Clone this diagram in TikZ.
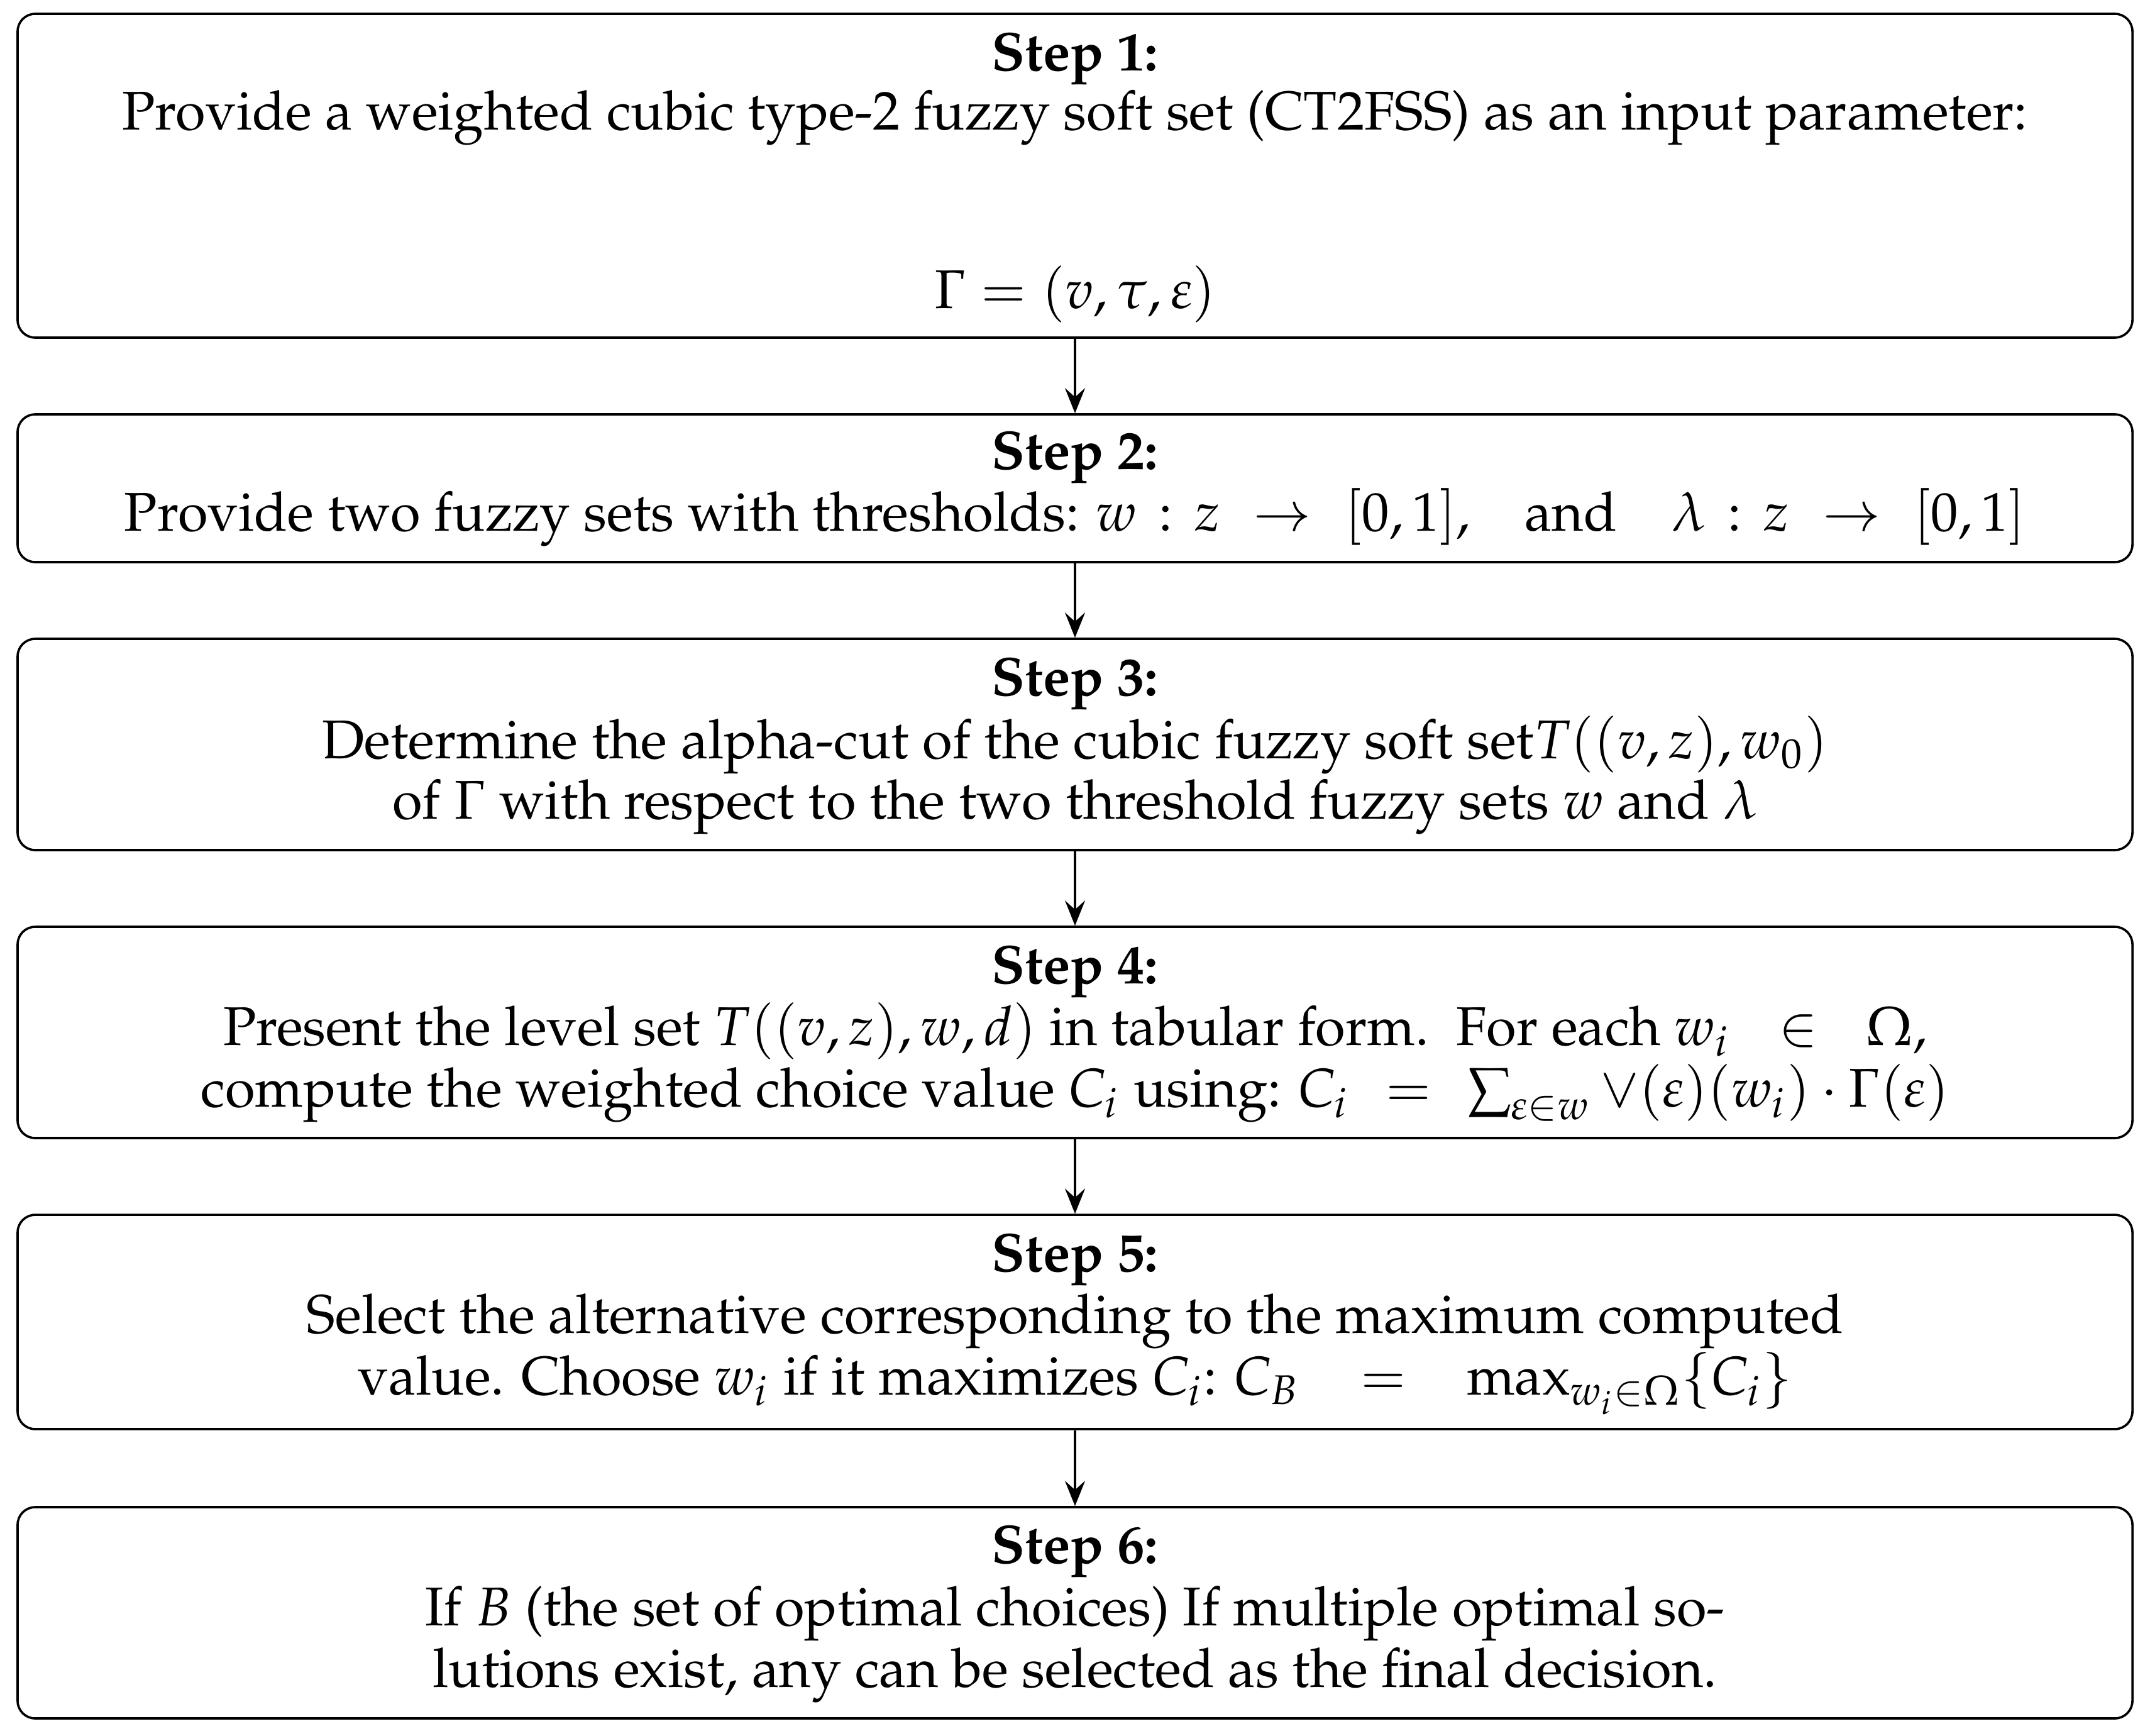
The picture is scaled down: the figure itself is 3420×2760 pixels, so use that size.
\documentclass[tikz,border=0pt]{standalone}
\usepackage[T1]{fontenc}
\usepackage{mathpazo}
\usetikzlibrary{arrows.meta}
\begin{document}
\begin{tikzpicture}[x=0.125pt,y=-0.125pt,
  stepbox/.style={draw, line width=0.45pt, rounded corners=3.5pt, minimum width=420.5pt, inner sep=0pt},
  txt/.style={anchor=base, inner sep=0pt, font=\fontsize{10.85}{13}\selectfont},
  conn/.style={-{Stealth[length=5pt,width=4pt,inset=1.8pt]}, line width=0.45pt}]
\useasboundingbox (0,0) rectangle (3420,2760);
% boxes
\node[stepbox, minimum height=64.375pt] (b1) at (1710,279.5) {};
\node[stepbox, minimum height=29.375pt] (b2) at (1710,776.5) {};
\node[stepbox, minimum height=42pt] (b3) at (1710,1184) {};
\node[stepbox, minimum height=42pt] (b4) at (1710,1642) {};
\node[stepbox, minimum height=42.6pt] (b5) at (1710,2102.5) {};
\node[stepbox, minimum height=42pt] (b6) at (1710,2565) {};
% connectors
\draw[conn] (b1) -- (b2);
\draw[conn] (b2) -- (b3);
\draw[conn] (b3) -- (b4);
\draw[conn] (b4) -- (b5);
\draw[conn] (b5) -- (b6);
% texts
\node[txt] (t1a) at (1710,113) {\textbf{Step 1:}};
\node[txt] (t1b) at (1710,207) {Provide a weighted cubic type-2 fuzzy soft set (CT2FSS) as an input parameter:};
\node[txt] (t1c) at (1710,491) {$\Gamma = (v, \tau, \varepsilon)$};
\node[txt] (t2a) at (1710,746) {\textbf{Step 2:}};
\node[txt] (t2b) at (1710,844) {Provide two fuzzy sets with thresholds: $w\mskip7mu{:}\mskip7mu z\mskip6mu\to\mskip6mu[0,1]$,\quad and\quad $\lambda\mskip7mu{:}\mskip7mu z\mskip6mu\to\mskip6mu[0,1]$};
\node[txt] (t3a) at (1710,1106) {\textbf{Step 3:}};
\node[txt] (t3b) at (1710,1206) {Determine the alpha-cut of the cubic fuzzy soft set$T((v,z),w_0)$};
\node[txt] (t3c) at (1710,1302) {of $\Gamma$ with respect to the two threshold fuzzy sets $w$ and $\lambda$};
\node[txt] (t4a) at (1710,1564) {\textbf{Step 4:}};
\node[txt] (t4b) at (1710,1662) {Present the level set $T((v,z),w,d)$ in tabular form.\ \ For each $w_i\mskip11mu\in\mskip11mu\Omega$,};
\node[txt] (t4c) at (1710,1760) {compute the weighted choice value $C_i$ using: $C_i\mskip7mu=\mskip7mu\sum_{\varepsilon\in w}\vee(\varepsilon)(w_i)\cdot\Gamma(\varepsilon)$};
\node[txt] (t5a) at (1710,2022) {\textbf{Step 5:}};
\node[txt] (t5b) at (1710,2120) {Select the alternative corresponding to the maximum computed};
\node[txt] (t5c) at (1710,2218) {value. Choose $w_i$ if it maximizes $C_i$: $C_B\mskip15mu=\mskip15mu\max_{w_i\in\Omega}\{C_i\}$};
\node[txt] (t6a) at (1710,2486) {\textbf{Step 6:}};
\node[txt] (t6b) at (1710,2585) {If $B$ (the set of optimal choices) If multiple optimal so-};
\node[txt] (t6c) at (1710,2683) {lutions exist, any can be selected as the final decision.};
\end{tikzpicture}
\end{document}
